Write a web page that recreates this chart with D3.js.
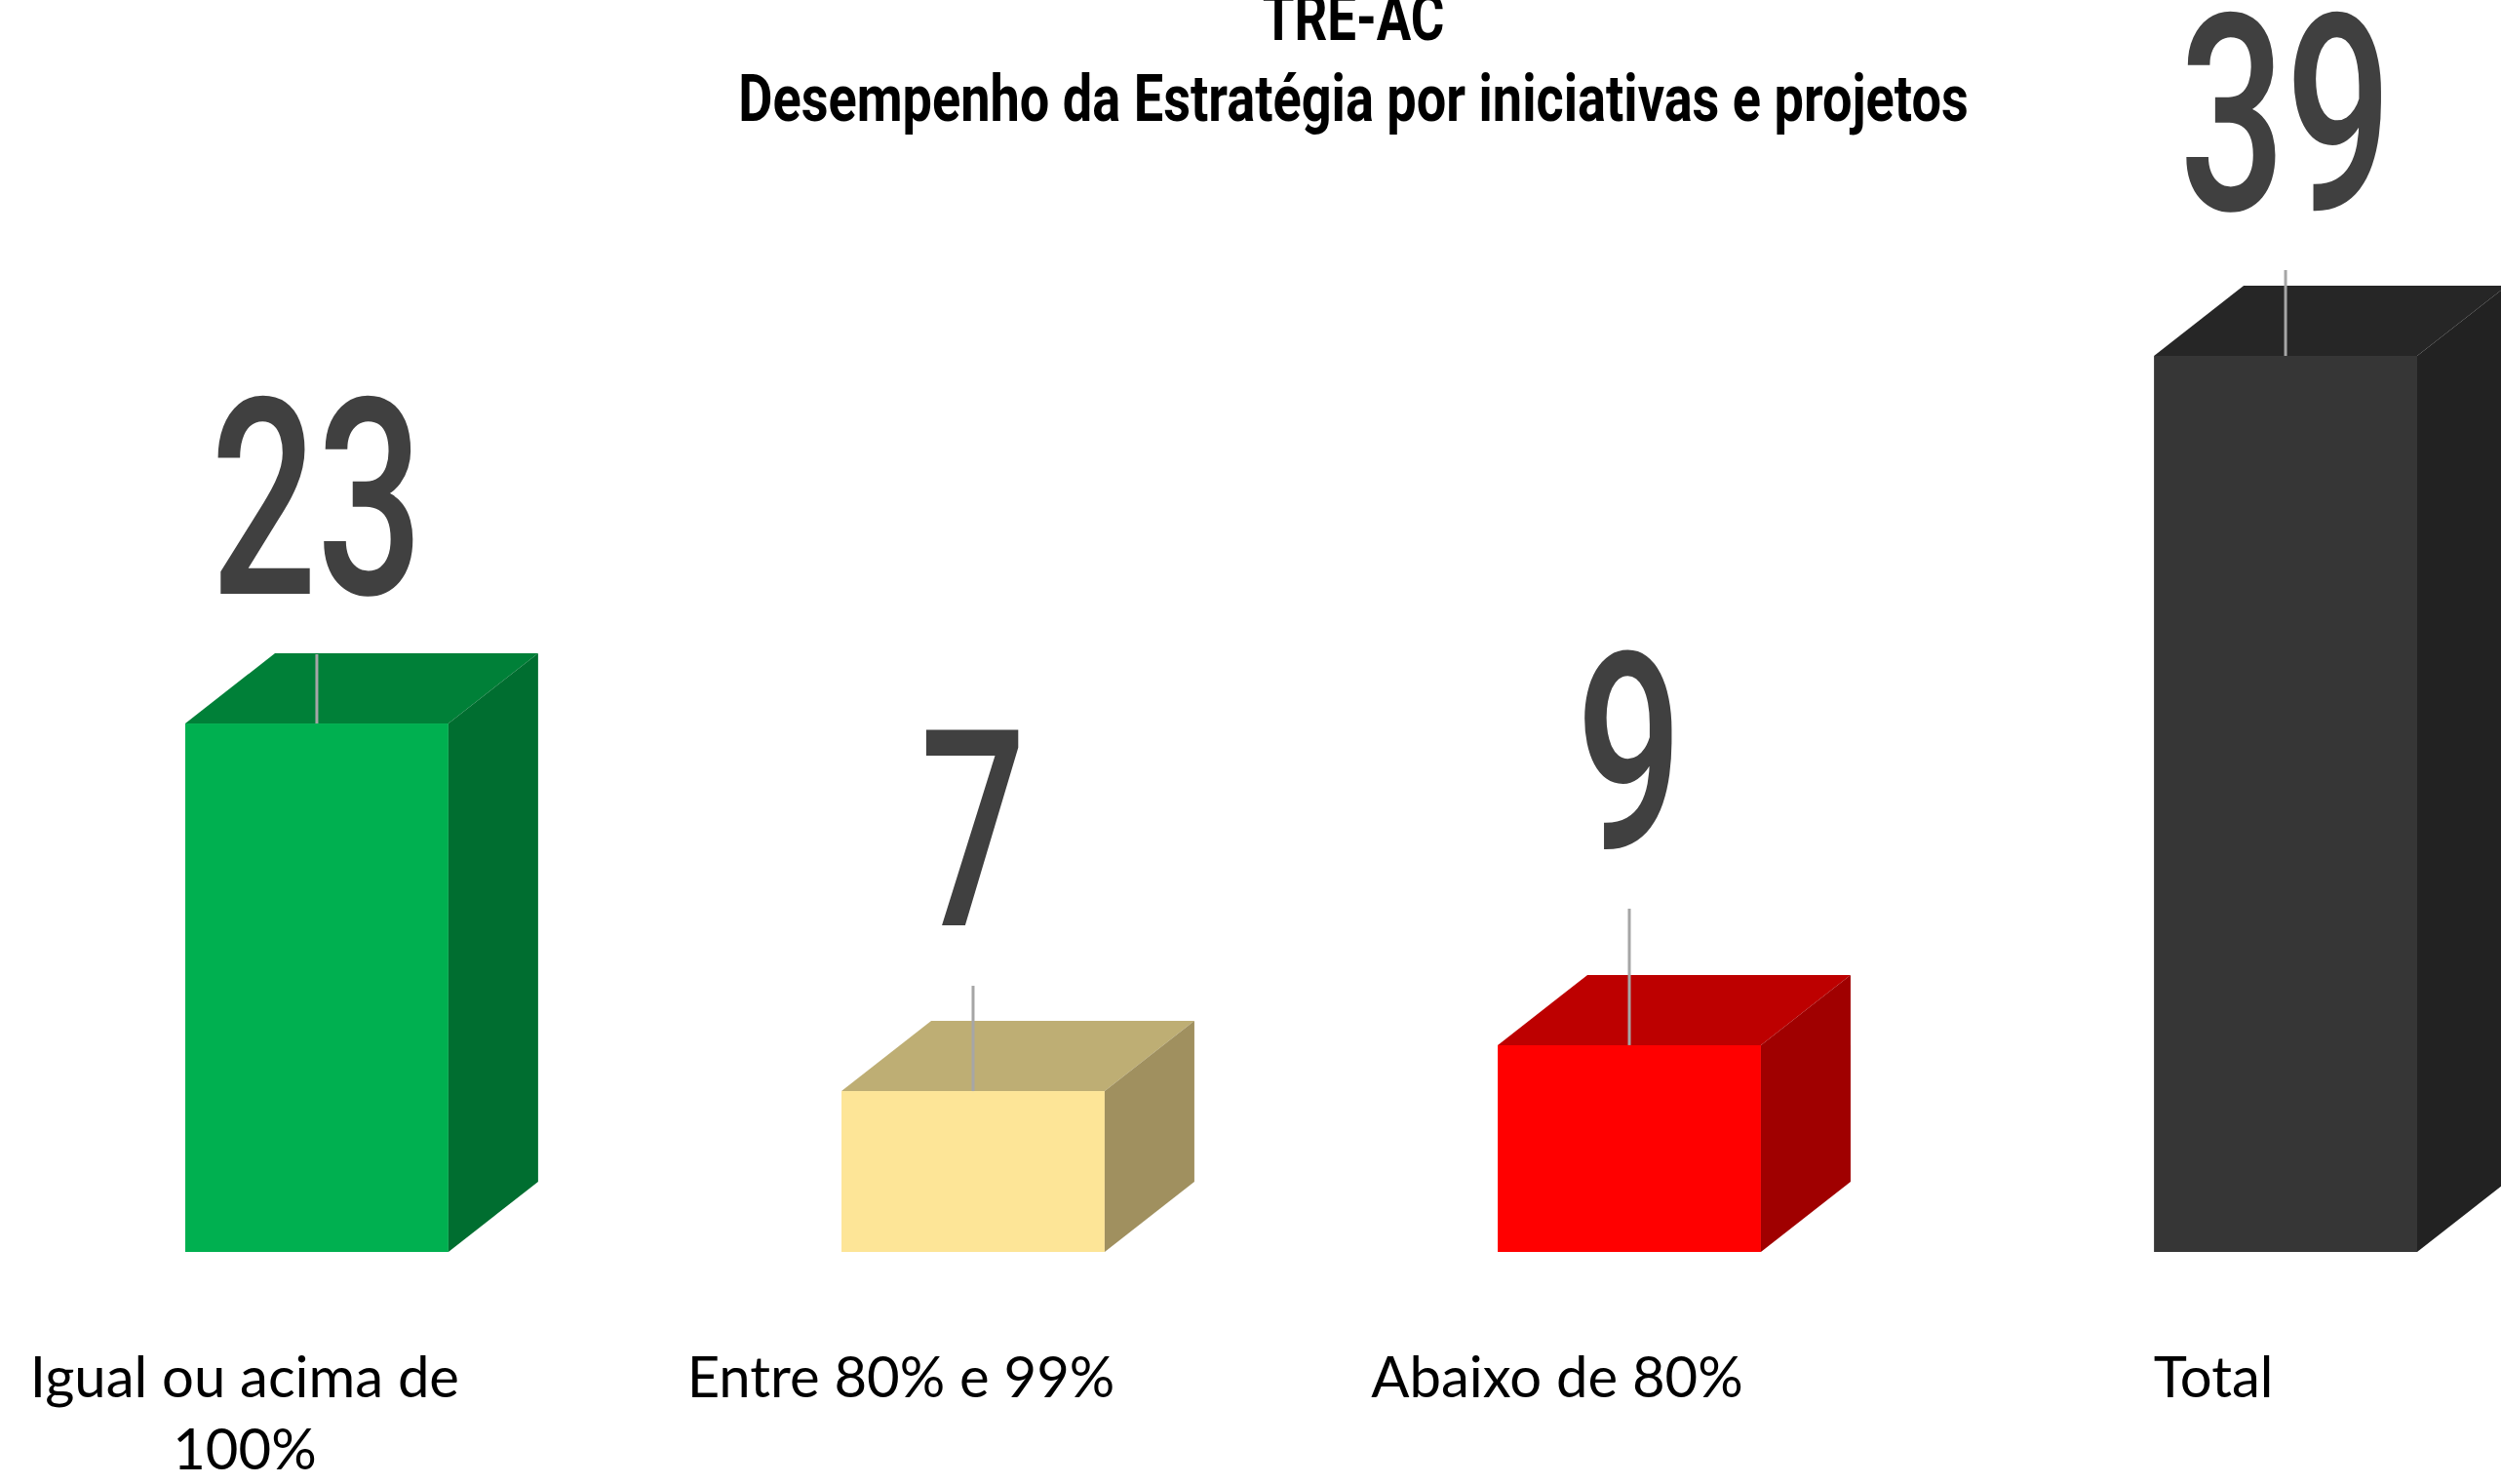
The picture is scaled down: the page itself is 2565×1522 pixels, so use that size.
<!DOCTYPE html>
<html>
<head>
<meta charset="utf-8">
<script src="https://cdn.jsdelivr.net/npm/d3@7"></script>
<style>
  body { margin: 0; background: #fff; }
  .title { font-family: Roboto, sans-serif; font-weight: 700; fill: #000; }
  .valueLabel { font-family: Roboto, sans-serif; font-weight: 500; fill: #404040; }
  .catLabel { font-family: Lato, sans-serif; fill: #000; }
</style>
</head>
<body>
<div id="chart"></div>
<script>
// Datos del gráfico
const categories = ["Igual ou acima de 100%", "Entre 80% e 99%", "Abaixo de 80%", "Total"]
const values = [23, 7, 9, 39]
const frontColors = ["#00b050", "#fde597", "#ff0000", "#363636"]
const topColors = ["#008038", "#beae74", "#bd0000", "#262626"]
const sideColors = ["#006e30", "#a0905f", "#a00000", "#222222"]
const categoryLines = [["Igual ou acima de", "100%"], ["Entre 80% e 99%"], ["Abaixo de 80%"], ["Total"]]
// largo de la línea guía de cada etiqueta (px)
const leaderLength = [71, 108, 140, 88]

// ----------------------------------------------------------

const width = 2565
const height = 1522
const baseY = 1284
const depth = { x: 92, y: 72 }

const svg = d3.select("div#chart").append("svg")
    .attr("width", width)
    .attr("height", height)

svg.append("rect").attr("width", width).attr("height", height).attr("fill", "#fff")

// Escalas
const scaleX = d3.scaleBand()
    .domain(categories)
    .range([190, 2479])
    .paddingInner(0.599)
    .paddingOuter(0)

const scaleY = d3.scaleLinear()
    .domain([0, d3.max(values)])
    .range([baseY, 365])

const data = categories.map((c, i) => ({
    cat: c, value: values[i], front: frontColors[i], top: topColors[i], side: sideColors[i],
    lines: categoryLines[i], lead: leaderLength[i]
}))

const bw = scaleX.bandwidth()
const bars = svg.append("g").attr("id", "bars")

const bar = bars.selectAll("g.bar").data(data).enter().append("g").attr("class", "bar")

// cara frontal
bar.append("rect")
    .attr("x", d => scaleX(d.cat))
    .attr("y", d => scaleY(d.value))
    .attr("width", bw)
    .attr("height", d => baseY - scaleY(d.value))
    .attr("fill", d => d.front)

// cara superior
bar.append("path")
    .attr("fill", d => d.top)
    .attr("d", d => {
        const x0 = scaleX(d.cat), y0 = scaleY(d.value)
        return `M${x0},${y0} L${x0 + depth.x},${y0 - depth.y} L${x0 + bw + depth.x},${y0 - depth.y} L${x0 + bw},${y0} Z`
    })

// cara lateral
bar.append("path")
    .attr("fill", d => d.side)
    .attr("d", d => {
        const x1 = scaleX(d.cat) + bw, y0 = scaleY(d.value)
        return `M${x1},${y0} L${x1 + depth.x},${y0 - depth.y} L${x1 + depth.x},${baseY - depth.y} L${x1},${baseY} Z`
    })

// línea guía de la etiqueta
bar.append("line")
    .attr("x1", d => scaleX(d.cat) + bw / 2)
    .attr("x2", d => scaleX(d.cat) + bw / 2)
    .attr("y1", d => scaleY(d.value))
    .attr("y2", d => scaleY(d.value) - d.lead)
    .attr("stroke", "#a6a6a6")
    .attr("stroke-width", 3)

// etiquetas de valor
bar.append("text")
    .attr("class", "valueLabel")
    .attr("text-anchor", "middle")
    .attr("font-size", 282)
    .attr("transform", d => `translate(${scaleX(d.cat) + bw / 2} ${scaleY(d.value) - d.lead - 62}) scale(0.68 1)`)
    .text(d => d.value)

// etiquetas de categoría
const catLabel = svg.append("g").selectAll("text").data(data).enter().append("text")
    .attr("class", "catLabel")
    .attr("text-anchor", "middle")
    .attr("font-size", 58)
    .attr("x", d => scaleX(d.cat) + bw / 2 - 74)
    .attr("y", 1433)
catLabel.selectAll("tspan").data(d => d.lines).enter().append("tspan")
    .attr("x", function() { return d3.select(this.parentNode).attr("x") })
    .attr("dy", (d, i) => i === 0 ? 0 : 74)
    .text(d => d)

// Título
const title = svg.append("g").attr("transform", "translate(1388 0)")
title.append("text").attr("class", "title").attr("text-anchor", "middle")
    .attr("font-size", 66)
    .attr("transform", "translate(0 41) scale(0.8 1)")
    .text("TRE-AC")
title.append("text").attr("class", "title").attr("text-anchor", "middle")
    .attr("font-size", 66)
    .attr("transform", "translate(0 124) scale(0.82 1)")
    .text("Desempenho da Estratégia por iniciativas e projetos")
</script>
</body>
</html>
